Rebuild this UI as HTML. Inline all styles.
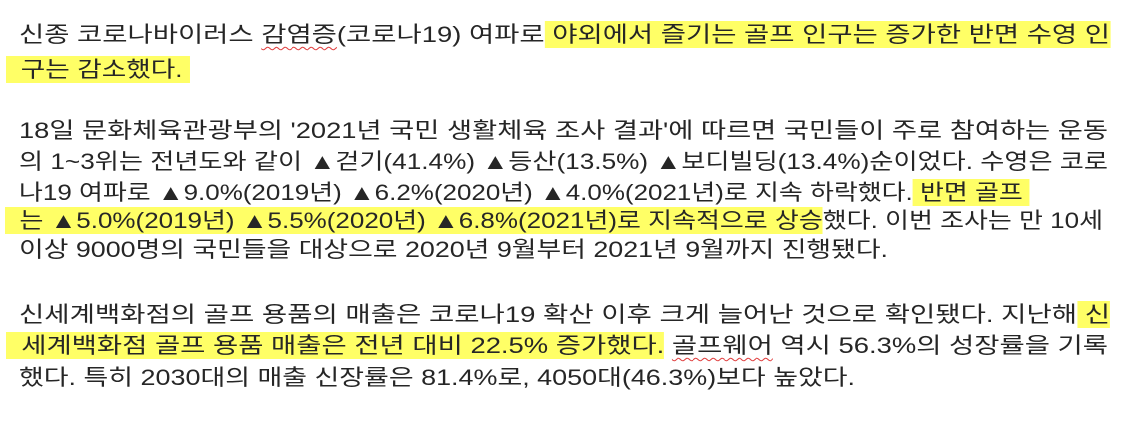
<!DOCTYPE html>
<html><head><meta charset="utf-8"><style>
html,body{margin:0;padding:0;background:#fff;width:1141px;height:422px;overflow:hidden}
body{position:relative;font-family:"Liberation Sans","Noto Sans CJK KR","NanumGothic",sans-serif;font-size:22px;color:#262626}
.l{position:absolute;left:19px;height:32px;line-height:32px;white-space:nowrap;transform-origin:0 50%}
.h{background:#ffff66;padding:1px 0}
.u{text-decoration:underline wavy #e04040;text-decoration-thickness:1px;text-underline-offset:4px}
</style></head><body>
<div class="l" data-end="1110" style="top:19px">신종 코로나바이러스 <span class="u">감염증</span>(코로나19) 여파로<span class="h"> 야외에서 즐기는 골프 인구는 증가한 반면 수영 인</span></div>
<div class="l" data-end="190" style="top:54px;left:6px"><span class="h">&nbsp;&nbsp;구는 감소했다.&nbsp;</span></div>
<div class="l" data-end="1108" style="top:115px">18일 문화체육관광부의 '2021년 국민 생활체육 조사 결과'에 따르면 국민들이 주로 참여하는 운동</div>
<div class="l" data-end="1108" style="top:146px">의 1~3위는 전년도와 같이 ▲걷기(41.4%) ▲등산(13.5%) ▲보디빌딩(13.4%)순이었다. 수영은 코로</div>
<div class="l" data-end="1030" style="top:177px">나19 여파로 ▲9.0%(2019년) ▲6.2%(2020년) ▲4.0%(2021년)로 지속 하락했다.<span class="h"> 반면 골프&nbsp;</span></div>
<div class="l" data-end="1103" style="top:205px;left:5px"><span class="h">&nbsp;&nbsp;는 ▲5.0%(2019년) ▲5.5%(2020년) ▲6.8%(2021년)로 지속적으로 상승</span>했다. 이번 조사는 만 10세</div>
<div class="l" data-end="888" style="top:234px">이상 9000명의 국민들을 대상으로 2020년 9월부터 2021년 9월까지 진행됐다.</div>
<div class="l" data-end="1110" style="top:299px">신세계백화점의 골프 용품의 매출은 코로나19 확산 이후 크게 늘어난 것으로 확인됐다. 지난해<span class="h"> 신</span></div>
<div class="l" data-end="1108" style="top:330px;left:6px"><span class="h">&nbsp;&nbsp;세계백화점 골프 용품 매출은 전년 대비 22.5% 증가했다.</span> <span class="u">골프웨어</span> 역시 56.3%의 성장률을 기록</div>
<div class="l" data-end="855" style="top:362px">했다. 특히 2030대의 매출 신장률은 81.4%로, 4050대(46.3%)보다 높았다.</div>
<script>
document.querySelectorAll('.l').forEach(function(el){
  var left=parseFloat(el.style.left||19);
  var w=el.getBoundingClientRect().width;
  var target=parseFloat(el.getAttribute('data-end'))-left;
  if(w>0) el.style.transform='scaleX('+(target/w)+')';
});
</script>
</body></html>
